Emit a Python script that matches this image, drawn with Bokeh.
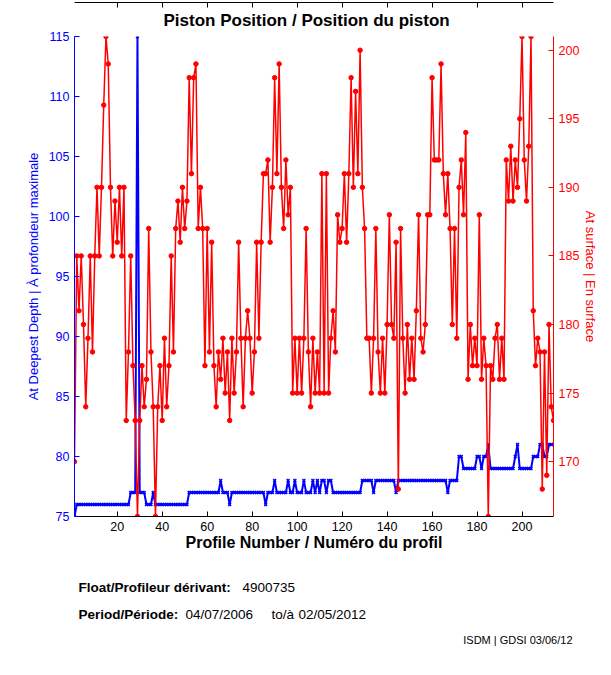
from bokeh.plotting import figure
from bokeh.models import Range1d, LinearAxis, FixedTicker, Title
from bokeh.layouts import column
from bokeh.core.properties import value
from bokeh.embed import file_html
from bokeh.resources import INLINE

profiles = list(range(1, 215))

surface = [
    170, 185, 181, 185, 180, 174, 179, 185, 178, 185,
    190, 185, 190, 196, 201, 199, 190, 185, 189, 186,
    190, 185, 190, 173, 178, 185, 177, 173, 166, 173,
    177, 174, 176, 187, 178, 174, 166, 174, 177, 173,
    179, 174, 177, 185, 178, 187, 189, 186, 190, 187,
    189, 198, 191, 198, 199, 187, 190, 187, 177, 187,
    178, 186, 177, 174, 178, 176, 179, 175, 178, 173,
    179, 175, 178, 186, 179, 174, 179, 181, 179, 175,
    178, 186, 179, 186, 191, 191, 192, 186, 190, 198,
    191, 199, 190, 187, 192, 188, 190, 175, 179, 175,
    179, 175, 179, 187, 178, 174, 179, 175, 178, 175,
    191, 175, 191, 175, 179, 181, 178, 188, 186, 187,
    191, 186, 191, 198, 190, 197, 191, 200, 190, 187,
    179, 179, 175, 179, 187, 178, 175, 179, 175, 180,
    188, 180, 179, 186, 168, 187, 179, 175, 180, 176,
    179, 176, 181, 188, 179, 178, 180, 188, 188, 198,
    192, 192, 192, 199, 191, 188, 191, 187, 180, 187,
    179, 190, 192, 188, 194, 176, 180, 177, 179, 177,
    188, 176, 179, 177, 166, 177, 176, 179, 180, 176,
    179, 176, 192, 189, 193, 189, 192, 190, 195, 201,
    192, 189, 193, 201, 181, 177, 179, 178, 168, 178,
    169, 180, 174, 173,
]

deepest = [
    75, 76, 76, 76, 76, 76, 76, 76, 76, 76,
    76, 76, 76, 76, 76, 76, 76, 76, 76, 76,
    76, 76, 76, 76, 76, 77, 77, 77, 115, 77,
    77, 77, 76, 76, 76, 77, 76, 76, 76, 76,
    76, 76, 76, 76, 76, 76, 76, 76, 76, 76,
    76, 77, 77, 77, 77, 77, 77, 77, 77, 77,
    77, 77, 77, 77, 77, 78, 77, 77, 77, 76,
    77, 77, 77, 77, 77, 77, 77, 77, 77, 77,
    77, 77, 77, 77, 77, 76, 77, 77, 77, 78,
    77, 77, 77, 77, 77, 78, 77, 77, 78, 77,
    77, 77, 78, 77, 77, 77, 78, 77, 78, 77,
    78, 78, 77, 78, 78, 77, 77, 77, 77, 77,
    77, 77, 77, 77, 77, 77, 77, 77, 78, 78,
    78, 78, 78, 77, 78, 78, 78, 78, 78, 78,
    78, 78, 78, 77, 78, 78, 78, 78, 78, 78,
    78, 78, 78, 78, 78, 78, 78, 78, 78, 78,
    78, 78, 78, 78, 78, 78, 77, 78, 78, 78,
    78, 80, 80, 79, 79, 79, 79, 79, 79, 80,
    80, 79, 80, 80, 81, 79, 79, 79, 79, 79,
    79, 79, 79, 79, 79, 79, 80, 81, 79, 79,
    79, 79, 79, 79, 80, 80, 80, 81, 81, 80,
    80, 81, 81, 81,
]

x_ticks = [20, 40, 60, 80, 100, 120, 140, 160, 180, 200]
left_ticks = [75, 80, 85, 90, 95, 100, 105, 110, 115]
right_ticks = [170, 175, 180, 185, 190, 195, 200]

title_text = "Piston Position / Position du piston"
x_label = "Profile Number / Numéro du profil"
left_label = "At Deepest Depth | À profondeur maximale"
right_label = "At surface | En surface"
float_label = "Float/Profileur dérivant:"
float_id = "4900735"
period_label = "Period/Période:"
date_start = "04/07/2006"
date_sep = "to/à"
date_end = "02/05/2012"
credit = "ISDM | GDSI 03/06/12"

FONT = "Liberation Sans"
W = 611

p = figure(width=W, height=560, output_backend="svg", toolbar_location=None,
           x_range=Range1d(1, 214), y_range=Range1d(75, 115),
           min_border_left=74, min_border_right=58, min_border_top=36,
           min_border_bottom=44)
p.extra_y_ranges = {"surf": Range1d(166, 201)}
p.outline_line_color = None
p.xgrid.visible = False
p.ygrid.visible = False
p.background_fill_color = "white"
p.border_fill_color = "white"

t = Title(text=title_text, align="left", offset=89, text_font=FONT,
          text_font_size="17px", text_font_style="bold", text_color="black",
          standoff=13)
p.add_layout(t, "above")

# blue deepest-depth series
p.line(profiles, deepest, line_color="blue", line_width=2)
p.scatter(profiles, deepest, marker="x", size=4, line_color="blue", line_width=1.5)

# red surface series
p.line(profiles, surface, line_color="red", line_width=1.5, y_range_name="surf")
p.scatter(profiles, surface, marker="circle", size=4.5, fill_color="red",
          line_color="red", y_range_name="surf")


def style_axis(ax, color):
    ax.axis_line_color = color
    ax.major_tick_line_color = color
    ax.major_label_text_color = color
    ax.axis_label_text_color = color
    ax.minor_tick_line_color = None
    ax.major_tick_in = 5
    ax.major_tick_out = 0
    ax.major_label_text_font = FONT
    ax.major_label_text_font_size = "12.5px"
    ax.axis_label_text_font = FONT
    ax.axis_line_width = 1


xa = p.xaxis[0]
xa.ticker = FixedTicker(ticks=x_ticks)
style_axis(xa, "black")
xa.axis_label = x_label
xa.axis_label_text_font_size = "16px"
xa.axis_label_text_font_style = "bold"
xa.axis_label_standoff = 0

ya = p.yaxis[0]
ya.ticker = FixedTicker(ticks=left_ticks)
style_axis(ya, "blue")
ya.axis_label = left_label
ya.axis_label_text_font_size = "13px"
ya.axis_label_text_font_style = "normal"
ya.axis_label_standoff = 5

ra = LinearAxis(y_range_name="surf", ticker=FixedTicker(ticks=right_ticks))
style_axis(ra, "red")
ra.axis_label = right_label
ra.axis_label_text_font_size = "13px"
ra.axis_label_text_font_style = "normal"
ra.axis_label_standoff = 1
p.add_layout(ra, "right")

ta = LinearAxis(ticker=FixedTicker(ticks=x_ticks))
style_axis(ta, "black")
ta.major_label_text_font_size = "0px"
ta.major_label_standoff = 0
ta.major_label_overrides = {tk: "" for tk in x_ticks}
p.add_layout(ta, "above")

# info panel below the chart
info = figure(width=W, height=115, output_backend="svg", toolbar_location=None,
              x_range=Range1d(0, W), y_range=Range1d(115, 0),
              min_border=0, min_border_left=0, min_border_right=0,
              min_border_top=0, min_border_bottom=0, frame_align=False)
info.axis.visible = False
info.xgrid.visible = False
info.ygrid.visible = False
info.outline_line_color = None
info.background_fill_color = "white"
info.border_fill_color = "white"

bold_items = [(78, 26.5, float_label), (78, 54, period_label)]
normal_items = [(242, 26.5, float_id), (185, 54, date_start),
                (271, 54, date_sep), (298, 54, date_end)]

info.text(x=[b[0] for b in bold_items], y=[b[1] for b in bold_items],
          text=[b[2] for b in bold_items], text_font=value(FONT),
          text_font_size="13.5px", text_font_style="bold",
          text_baseline="middle", text_align="left", text_color="black")
info.text(x=[n[0] for n in normal_items], y=[n[1] for n in normal_items],
          text=[n[2] for n in normal_items], text_font=value(FONT),
          text_font_size="13.5px", text_font_style="normal",
          text_baseline="middle", text_align="left", text_color="black")
info.text(x=[572], y=[79], text=[credit], text_font=value(FONT),
          text_font_size="11px", text_baseline="middle", text_align="right",
          text_color="black")

layout = column(p, info, spacing=0)
open("out.html", "w").write(file_html(layout, INLINE))
